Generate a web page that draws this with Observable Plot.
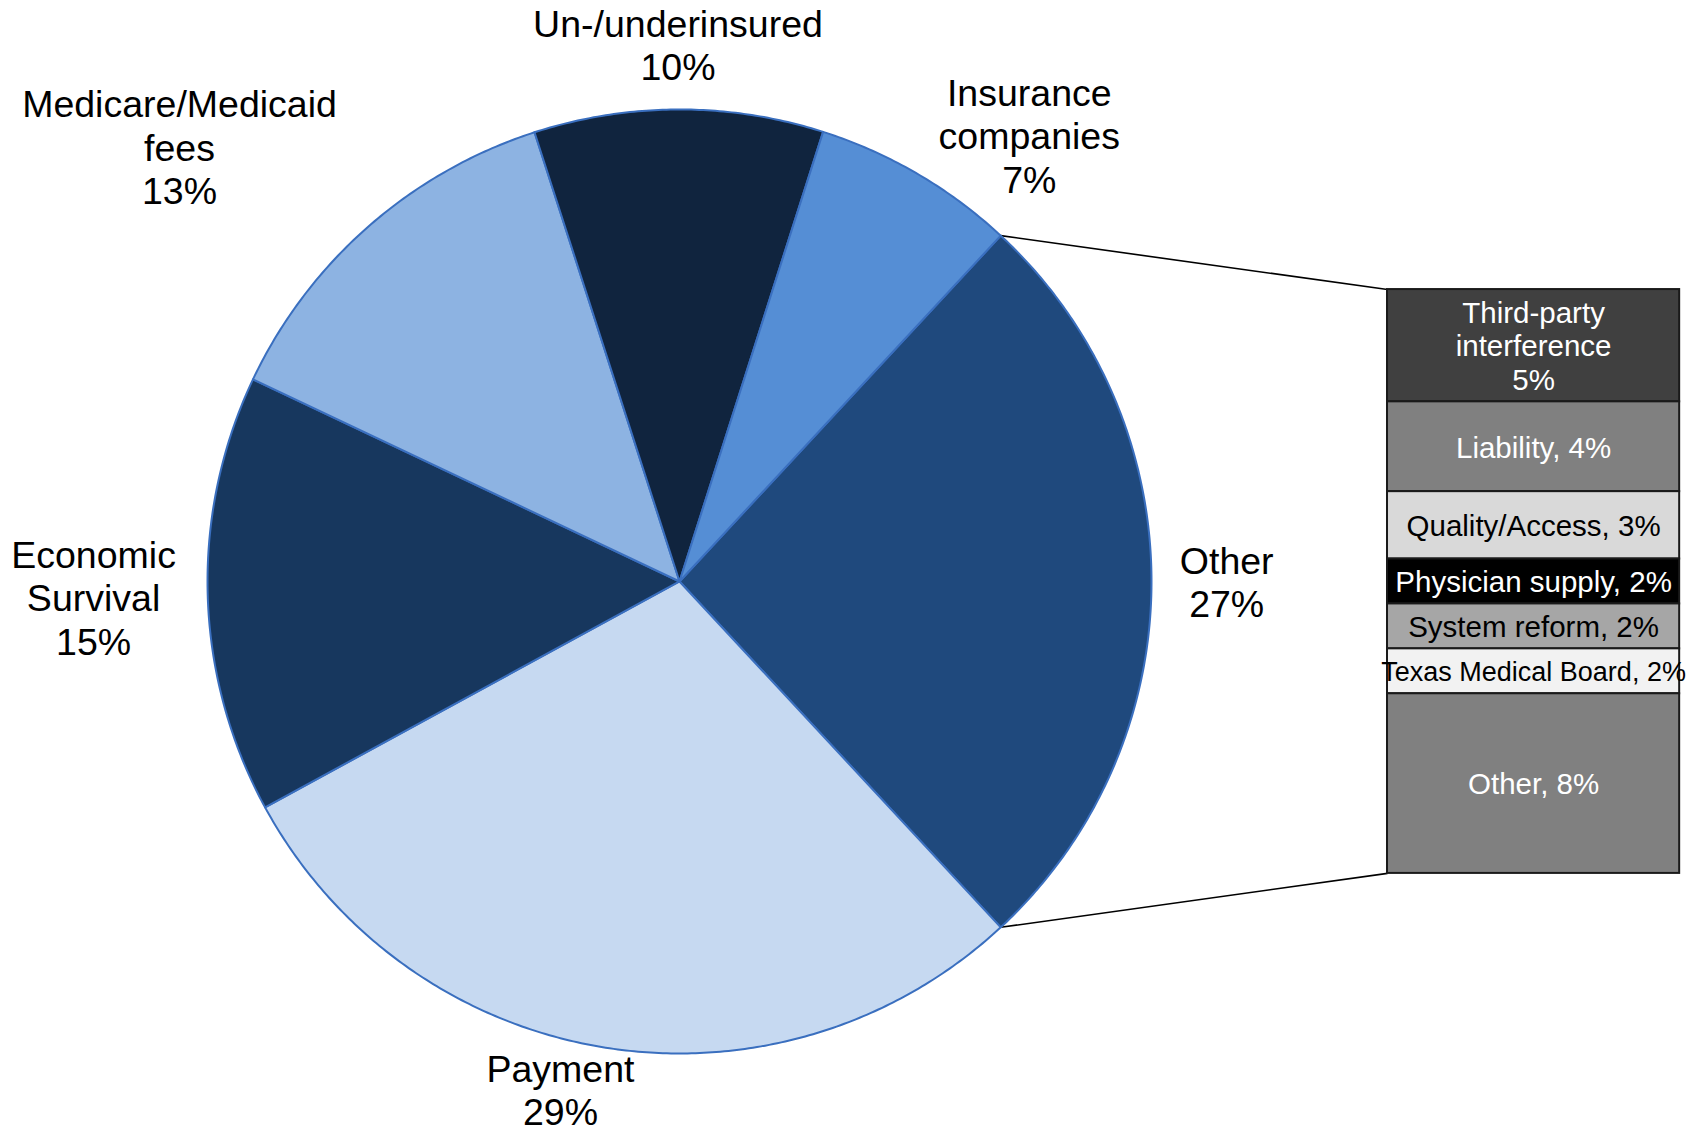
<!DOCTYPE html>
<html><head><meta charset="utf-8">
<script src="https://cdn.jsdelivr.net/npm/d3@7"></script>
<script src="https://cdn.jsdelivr.net/npm/@observablehq/plot@0.6"></script>
<style>html,body{margin:0;padding:0;background:#fff}svg{display:block}</style>
</head><body><div id="chart"></div>
<script>
// ---- data (clockwise from the "Other" slice) ----
const categories = ["Other", "Payment", "Economic Survival", "Medicare/Medicaid fees", "Un-/underinsured", "Insurance companies"];
const values = [26.2, 29, 15, 13, 9.9, 7];
const labelLines = [["Other", "27%"], ["Payment", "29%"], ["Economic", "Survival", "15%"], ["Medicare/Medicaid", "fees", "13%"], ["Un-/underinsured", "10%"], ["Insurance", "companies", "7%"]];
const colors = ["#1F497D", "#C6D9F1", "#17375E", "#8DB3E2", "#10243E", "#558ED5"];

const subCategories = ["Third-party interference", "Liability", "Quality/Access", "Physician supply", "System reform", "Texas Medical Board", "Other"];
const subValues = [5, 4, 3, 2, 2, 2, 8];
const subLabels = ["Third-party\ninterference\n5%", "Liability, 4%", "Quality/Access, 3%", "Physician supply, 2%", "System reform, 2%", "Texas Medical Board, 2%", "Other, 8%"];
const subColors = ["#404040", "#808080", "#D9D9D9", "#000000", "#A6A6A6", "#F2F2F2", "#808080"];
const subTextColors = ["#FFFFFF", "#FFFFFF", "#000000", "#FFFFFF", "#000000", "#000000", "#FFFFFF"];

// ---- layout ----
const W = 1704, H = 1131;
const xDomain = [-1.4386, 2.1716];
const yDomain = [-1.1653, 1.2309];
const k = W / (xDomain[1] - xDomain[0]); // px per unit
const font = '"Liberation Sans", Arial, sans-serif';
const labelSize = 37.5, labelLH = 43.5;
const barX1 = 1.5, barX2 = 2.119, barH = 1.237;

const rad = a => a * Math.PI / 180;
const total = d3.sum(values);
let start = 90 - values[0] / total * 180;
const slices = values.map((v, i) => {
  const a0 = start, a1 = start + v / total * 360;
  start = a1;
  return {i, a0, a1};
});

const ctx = document.createElement("canvas").getContext("2d");
ctx.font = `${labelSize}px ${font}`;
const clamp = v => Math.max(-1, Math.min(1, v));

const pieMarks = slices.map(s => {
  const pts = [{x: 0, y: 0}];
  const n = Math.max(2, Math.ceil((s.a1 - s.a0) / 0.5));
  for (let j = 0; j <= n; j++) {
    const a = rad(s.a0 + (s.a1 - s.a0) * j / n);
    pts.push({x: Math.sin(a), y: Math.cos(a)});
  }
  return Plot.line(pts, {x: "x", y: "y", curve: "linear-closed", fill: colors[s.i], stroke: "#3A6FBF", strokeWidth: 2, strokeLinejoin: "round"});
});

// outside-end label placement
const labelData = slices.map(s => {
  const m = rad((s.a0 + s.a1) / 2);
  const sn = Math.sin(m), cs = Math.cos(m);
  const R = 1.05;
  const lines = labelLines[s.i];
  const w = d3.max(lines, l => ctx.measureText(l).width) / k;
  const h = lines.length * labelLH / k;
  const fx = 1.1 * clamp(3 * sn);
  const fy = cs >= 0 ? clamp(2 * cs) * 0.95 * (1 - 1.4 * Math.max(0, sn)) : clamp(2 * cs) * 0.44;
  return {text: lines.join("\n"), x: R * sn + fx * w / 2, y: R * cs + fy * h / 2};
});

// bar of the "Other" slice
const unit = barH / d3.sum(subValues);
let cum = 0;
const barData = subValues.map((v, i) => {
  const y1 = barH / 2 - cum * unit;
  cum += v;
  const y2 = barH / 2 - cum * unit;
  return {name: subCategories[i], label: subLabels[i], y1, y2, fill: subColors[i], text: subTextColors[i]};
});

const other = slices[0];
const links = [
  {x1: Math.sin(rad(other.a0)), y1: Math.cos(rad(other.a0)), x2: barX1, y2: barH / 2},
  {x1: Math.sin(rad(other.a1)), y1: Math.cos(rad(other.a1)), x2: barX1, y2: -barH / 2}
];

const chart = Plot.plot({
  width: W, height: H, margin: 0,
  x: {domain: xDomain, axis: null},
  y: {domain: yDomain, axis: null},
  color: {type: "identity"},
  style: {fontFamily: font, background: "#fff"},
  marks: [
    Plot.link(links, {x1: "x1", y1: "y1", x2: "x2", y2: "y2", stroke: "#000", strokeWidth: 1.6}),
    ...pieMarks,
    Plot.rect(barData, {x1: () => barX1, x2: () => barX2, y1: "y1", y2: "y2", fill: "fill", stroke: "#1a1a1a", strokeWidth: 2}),
    Plot.text(barData, {x: () => (barX1 + barX2) / 2, y: d => (d.y1 + d.y2) / 2, text: "label", fill: "text",
      fontSize: d => d.name === "Texas Medical Board" ? 27 : 29.5, lineHeight: 1.14, lineAnchor: "middle"}),
    Plot.text(labelData, {x: "x", y: "y", text: "text", fill: "#000", fontSize: labelSize, lineHeight: labelLH / labelSize, lineAnchor: "middle"})
  ]
});
document.getElementById("chart").appendChild(chart);
</script></body></html>
